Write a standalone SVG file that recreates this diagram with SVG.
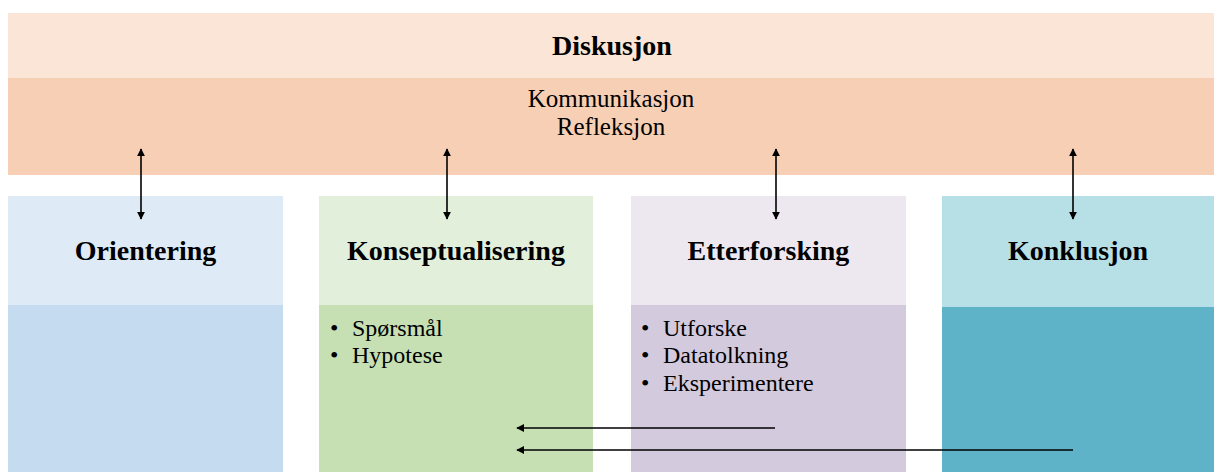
<svg xmlns="http://www.w3.org/2000/svg" width="1214" height="472" viewBox="0 0 1214 472">
<style>
.h{font-family:"Liberation Serif","Times New Roman",serif;font-weight:bold;font-size:28px;fill:#000;text-anchor:middle}
.t{font-family:"Liberation Serif","Times New Roman",serif;font-size:24px;fill:#000}
.c{text-anchor:middle;font-size:25px}
.ln{stroke:#000;stroke-width:1.6;fill:none}
</style>
<defs>
<marker id="ah" viewBox="0 0 10 10" refX="9" refY="5" markerWidth="8" markerHeight="8" markerUnits="userSpaceOnUse" orient="auto-start-reverse">
<path d="M0,0 L10,5 L0,10 z" fill="#000"/>
</marker>
</defs>
<rect width="1214" height="472" fill="#fff"/>
<g id="diskusjon">
<rect x="8" y="13" width="1206" height="65" fill="#FAE5D7"/>
<rect x="8" y="78" width="1206" height="97" fill="#F7CFB5"/>
<text class="h" x="612" y="55">Diskusjon</text>
<text class="t c" x="611" y="107">Kommunikasjon</text>
<text class="t c" x="611" y="135">Refleksjon</text>
</g>
<g id="orientering">
<rect x="8" y="196" width="275" height="109" fill="#DEEAF6"/>
<rect x="8" y="305" width="275" height="167" fill="#C5DBF0"/>
<text class="h" x="145.5" y="260">Orientering</text>
</g>
<g id="konseptualisering">
<rect x="319" y="196" width="274" height="109" fill="#E2EFDA"/>
<rect x="319" y="305" width="274" height="167" fill="#C6E0B4"/>
<text class="h" x="456" y="260">Konseptualisering</text>
<text class="t" x="330" y="336">•</text><text class="t" x="352" y="336">Spørsmål</text>
<text class="t" x="330" y="363">•</text><text class="t" x="352" y="363">Hypotese</text>
</g>
<g id="etterforsking">
<rect x="631" y="196" width="275" height="109" fill="#EDE8F0"/>
<rect x="631" y="305" width="275" height="167" fill="#D3CADD"/>
<text class="h" x="768.5" y="260">Etterforsking</text>
<text class="t" x="641" y="336">•</text><text class="t" x="663" y="336">Utforske</text>
<text class="t" x="641" y="363">•</text><text class="t" x="663" y="363">Datatolkning</text>
<text class="t" x="641" y="391">•</text><text class="t" x="663" y="391">Eksperimentere</text>
</g>
<g id="konklusjon">
<rect x="942" y="196" width="272" height="111" fill="#B7DFE6"/>
<rect x="942" y="307" width="272" height="165" fill="#5EB3C9"/>
<text class="h" x="1078" y="260">Konklusjon</text>
</g>
<g id="connectors">
<line class="ln" x1="141" y1="149" x2="141" y2="219" marker-start="url(#ah)" marker-end="url(#ah)"/>
<line class="ln" x1="447" y1="149" x2="447" y2="219" marker-start="url(#ah)" marker-end="url(#ah)"/>
<line class="ln" x1="776" y1="149" x2="776" y2="219" marker-start="url(#ah)" marker-end="url(#ah)"/>
<line class="ln" x1="1073" y1="149" x2="1073" y2="219" marker-start="url(#ah)" marker-end="url(#ah)"/>
<line class="ln" x1="775" y1="428" x2="517" y2="428" marker-end="url(#ah)"/>
<line class="ln" x1="1073" y1="450" x2="517" y2="450" marker-end="url(#ah)"/>
</g>
</svg>
